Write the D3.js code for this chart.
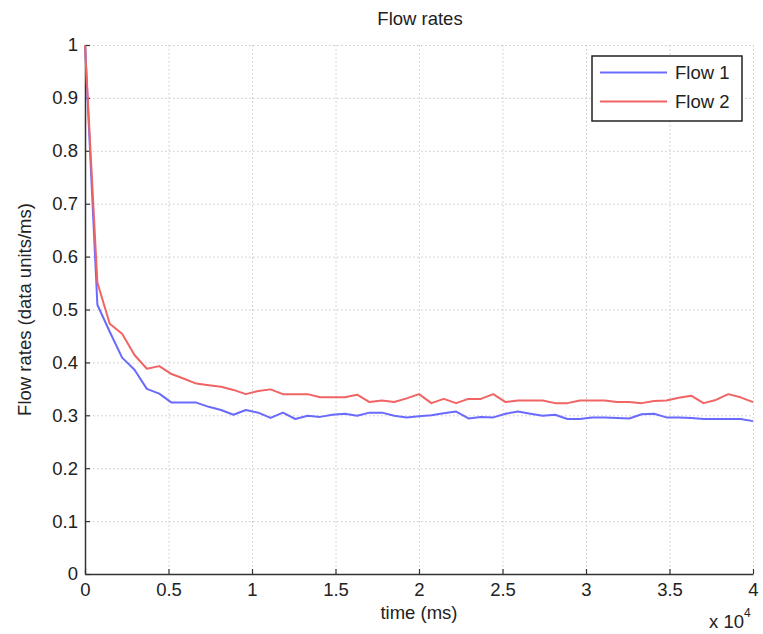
<!DOCTYPE html>
<html>
<head>
<meta charset="utf-8">
<script src="https://cdn.jsdelivr.net/npm/d3@7"></script>
<style>
  html, body { margin: 0; padding: 0; background: #fff; }
  svg { display: block; font-family: "Liberation Sans", Arial, Helvetica, sans-serif; }
</style>
</head>
<body>
<svg id="chart" width="763" height="634"></svg>
<script>
// ---- data ----
const times = [0, 741, 1481, 2222, 2963, 3704, 4444, 5185, 5926, 6667, 7407, 8148, 8889, 9630,
  10370, 11111, 11852, 12593, 13333, 14074, 14815, 15556, 16296, 17037, 17778, 18519, 19259,
  20000, 20741, 21481, 22222, 22963, 23704, 24444, 25185, 25926, 26667, 27407, 28148, 28889,
  29630, 30370, 31111, 31852, 32593, 33333, 34074, 34815, 35556, 36296, 37037, 37778, 38519,
  39259, 40000];
const flow1 = [1.0, 0.509, 0.458, 0.409, 0.386, 0.350, 0.341, 0.324, 0.324, 0.324, 0.316, 0.310,
  0.301, 0.310, 0.305, 0.295, 0.305, 0.293, 0.299, 0.297, 0.301, 0.303, 0.299, 0.305, 0.305,
  0.299, 0.296, 0.298, 0.300, 0.304, 0.307, 0.294, 0.297, 0.296, 0.303, 0.307, 0.303, 0.299,
  0.301, 0.293, 0.293, 0.296, 0.296, 0.295, 0.294, 0.302, 0.303, 0.296, 0.296, 0.295, 0.293,
  0.293, 0.293, 0.293, 0.289];
const flow2 = [1.0, 0.551, 0.473, 0.454, 0.414, 0.388, 0.393, 0.378, 0.369, 0.360, 0.357, 0.354,
  0.348, 0.340, 0.346, 0.349, 0.340, 0.340, 0.340, 0.334, 0.334, 0.334, 0.339, 0.325, 0.328,
  0.325, 0.332, 0.340, 0.323, 0.331, 0.323, 0.331, 0.331, 0.340, 0.325, 0.328, 0.328, 0.328,
  0.323, 0.323, 0.328, 0.328, 0.328, 0.325, 0.325, 0.323, 0.327, 0.328, 0.333, 0.337, 0.323,
  0.329, 0.340, 0.334, 0.325];
const seriesNames = ["Flow 1", "Flow 2"];
const seriesColors = ["#6a6aff", "#f06464"];
const xTicks = [0, 5000, 10000, 15000, 20000, 25000, 30000, 35000, 40000];
const yTicks = [0, 0.1, 0.2, 0.3, 0.4, 0.5, 0.6, 0.7, 0.8, 0.9, 1];
const titleText = "Flow rates";
const xLabel = "time (ms)";
const yLabel = "Flow rates (data units/ms)";

// ---- layout ----
const svg = d3.select("#chart");
const L = 85, R = 753, T = 45, B = 574;
const x = d3.scaleLinear().domain([0, 40000]).range([L, R]);
const y = d3.scaleLinear().domain([0, 1]).range([B, T]);
const fs = 18.5;

// grid
const grid = svg.append("g").attr("stroke", "#c8c8c8").attr("stroke-width", 1)
  .attr("stroke-dasharray", "1.5,2.5");
grid.selectAll("line.gx").data(xTicks.filter(d => d > 0)).enter().append("line")
  .attr("x1", d => x(d) + 0.5).attr("x2", d => x(d) + 0.5).attr("y1", T).attr("y2", B);
grid.selectAll("line.gy").data(yTicks.filter(d => d > 0)).enter().append("line")
  .attr("x1", L).attr("x2", R).attr("y1", d => y(d) + 0.5).attr("y2", d => y(d) + 0.5);

// axes (ticks inward)
const xAxis = d3.axisBottom(x).tickValues(xTicks).tickSizeInner(-5).tickSizeOuter(0)
  .tickPadding(9).tickFormat(d => d3.format("~g")(d / 10000));
const gx = svg.append("g").attr("transform", `translate(0,${B})`).call(xAxis);
const yAxis = d3.axisLeft(y).tickValues(yTicks).tickSizeInner(-5).tickSizeOuter(0)
  .tickPadding(7).tickFormat(d3.format("~g"));
const gy = svg.append("g").attr("transform", `translate(${L},0)`).call(yAxis);
[gx, gy].forEach(g => {
  g.select(".domain").attr("stroke", "#333").attr("stroke-width", 1.5);
  g.selectAll(".tick line").attr("stroke", "#333").attr("stroke-width", 1.2);
  g.selectAll(".tick text").attr("fill", "#222").style("font-size", fs + "px")
    .style("font-family", "'Liberation Sans', Arial, sans-serif");
});

// lines
const series = [flow1, flow2];
const line = d3.line().x((d, i) => x(times[i])).y(d => y(d));
series.forEach((s, i) => {
  svg.append("path").datum(s).attr("fill", "none").attr("stroke", seriesColors[i])
    .attr("stroke-width", 2).attr("stroke-linejoin", "round").attr("d", line);
});

// title & labels
svg.append("text").attr("x", 420).attr("y", 25).attr("text-anchor", "middle")
  .style("font-size", fs + "px").attr("fill", "#222").text(titleText);
svg.append("text").attr("x", 419).attr("y", 619).attr("text-anchor", "middle")
  .style("font-size", fs + "px").attr("fill", "#222").text(xLabel);
svg.append("text").attr("transform", `translate(31,${(T + B) / 2}) rotate(-90)`)
  .attr("text-anchor", "middle").style("font-size", fs + "px").attr("fill", "#222").text(yLabel);
const mult = svg.append("text").attr("x", 709).attr("y", 628)
  .style("font-size", fs + "px").attr("fill", "#222");
mult.append("tspan").text("x 10");
mult.append("tspan").attr("dy", -11).style("font-size", "12px").text("4");

// legend
const lg = svg.append("g");
lg.append("rect").attr("x", 592).attr("y", 56).attr("width", 150).attr("height", 65)
  .attr("fill", "#fff").attr("stroke", "#222").attr("stroke-width", 1.5);
seriesNames.forEach((n, i) => {
  const yy = 72.5 + i * 29;
  lg.append("line").attr("x1", 600).attr("x2", 667).attr("y1", yy).attr("y2", yy)
    .attr("stroke", seriesColors[i]).attr("stroke-width", 2);
  lg.append("text").attr("x", 675).attr("y", yy + 6.5).style("font-size", fs + "px")
    .attr("fill", "#222").text(n);
});
</script>
</body>
</html>
